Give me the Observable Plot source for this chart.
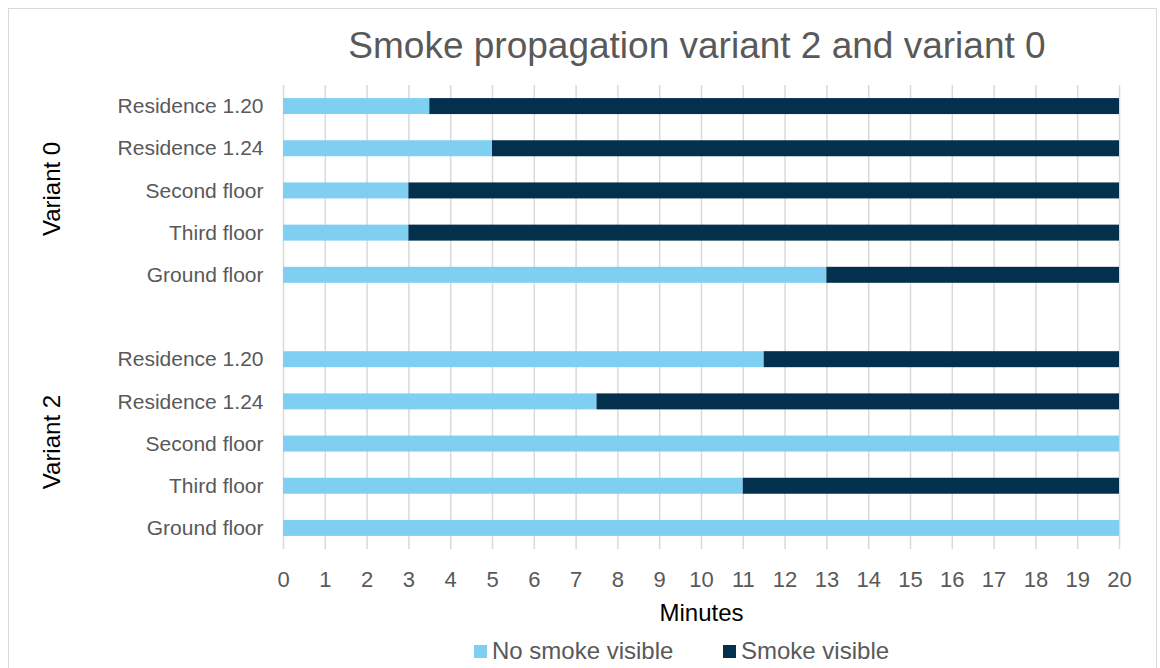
<!DOCTYPE html>
<html>
<head>
<meta charset="utf-8">
<script src="https://cdn.jsdelivr.net/npm/d3@7"></script>
<script src="https://cdn.jsdelivr.net/npm/@observablehq/plot@0.6"></script>
<style>
  html, body { margin: 0; padding: 0; background: #fff; overflow: hidden; }
  body { width: 1160px; height: 668px; position: relative; font-family: "Liberation Sans", Arial, sans-serif; }
  #frame { position: absolute; left: 8px; top: 8px; width: 1149px; height: 700px; border: 1.5px solid #d9d9d9; box-sizing: border-box; }
  #title { position: absolute; left: 275px; width: 844px; top: 24px; text-align: center; font-size: 37px; line-height: 44px; color: #595959; white-space: nowrap; }
  #chart { position: absolute; left: 0; top: 70px; }
  #chart g[aria-label="x-axis label"] text { fill: #000; font-size: 24px; }
  .legend-item { position: absolute; top: 637px; height: 28px; display: flex; align-items: center; font-size: 24px; color: #595959; white-space: nowrap; }
  .swatch { width: 13px; height: 13px; margin-right: 5px; }
</style>
</head>
<body>
<div id="frame"></div>
<div id="title">Smoke propagation variant 2 and variant 0</div>
<div id="chart"></div>
<div id="legend"></div>
<script>
// ---- data ----
const floors = ["Residence 1.20", "Residence 1.24", "Second floor", "Third floor", "Ground floor"];
const variants = ["Variant 0", "Variant 2"];
const noSmokeVariant0 = [3.5, 5, 3, 3, 13];
const noSmokeVariant2 = [11.5, 7.5, 20, 11, 20];
const totalMinutes = 20;
const minuteTicks = [0, 1, 2, 3, 4, 5, 6, 7, 8, 9, 10, 11, 12, 13, 14, 15, 16, 17, 18, 19, 20];
const seriesNames = ["No smoke visible", "Smoke visible"];
const seriesColors = ["#7fcff3", "#02304d"];

// ---- table ----
const gapKey = "gap";
const rowKeys = [
  ...floors.map(f => variants[0] + "|" + f),
  gapKey,
  ...floors.map(f => variants[1] + "|" + f)
];
const rows = [];
[[variants[0], noSmokeVariant0], [variants[1], noSmokeVariant2]].forEach(([v, vals]) => {
  floors.forEach((f, i) => {
    const key = v + "|" + f;
    rows.push({key, series: seriesNames[0], x1: 0, x2: vals[i]});
    if (vals[i] < totalMinutes) rows.push({key, series: seriesNames[1], x1: vals[i], x2: totalMinutes});
  });
});
const variantLabels = variants.map(v => ({label: v, key: v + "|" + floors[2]}));

const plot = Plot.plot({
  width: 1160,
  height: 560,
  marginTop: 15,
  marginBottom: 81,
  marginLeft: 283,
  marginRight: 41,
  style: {fontFamily: '"Liberation Sans", Arial, sans-serif', background: "transparent", overflow: "visible"},
  x: {domain: [0, totalMinutes]},
  y: {domain: rowKeys, paddingInner: 0.621, paddingOuter: 0.31, round: false, axis: null},
  color: {domain: seriesNames, range: seriesColors},
  marks: [
    Plot.gridX(minuteTicks, {stroke: "#d9d9d9", strokeOpacity: 1, strokeWidth: 1.5}),
    Plot.barX(rows, {y: "key", x1: "x1", x2: "x2", fill: "series"}),
    Plot.axisX(minuteTicks, {
      tickSize: 0, tickPadding: 22, fontSize: 22, fill: "#595959",
      label: "Minutes", labelAnchor: "center", labelOffset: 71, labelArrow: "none"
    }),
    Plot.axisY({
      tickSize: 0, tickPadding: 20, fontSize: 21, fill: "#595959", label: null,
      tickFormat: k => k === gapKey ? "" : k.split("|")[1]
    }),
    Plot.text(variantLabels, {
      y: "key", text: "label", frameAnchor: "left", textAnchor: "middle", lineAnchor: "middle",
      dx: -231, dy: -2, rotate: -90, fontSize: 24, fill: "#000"
    })
  ]
});
document.getElementById("chart").appendChild(plot);

// ---- legend ----
const legend = document.getElementById("legend");
const legendLefts = [474, 723];
seriesNames.forEach((name, i) => {
  const item = document.createElement("div");
  item.className = "legend-item";
  item.style.left = legendLefts[i] + "px";
  const sw = document.createElement("span");
  sw.className = "swatch";
  sw.style.background = seriesColors[i];
  const t = document.createElement("span");
  t.textContent = name;
  item.appendChild(sw);
  item.appendChild(t);
  legend.appendChild(item);
});
</script>
</body>
</html>
